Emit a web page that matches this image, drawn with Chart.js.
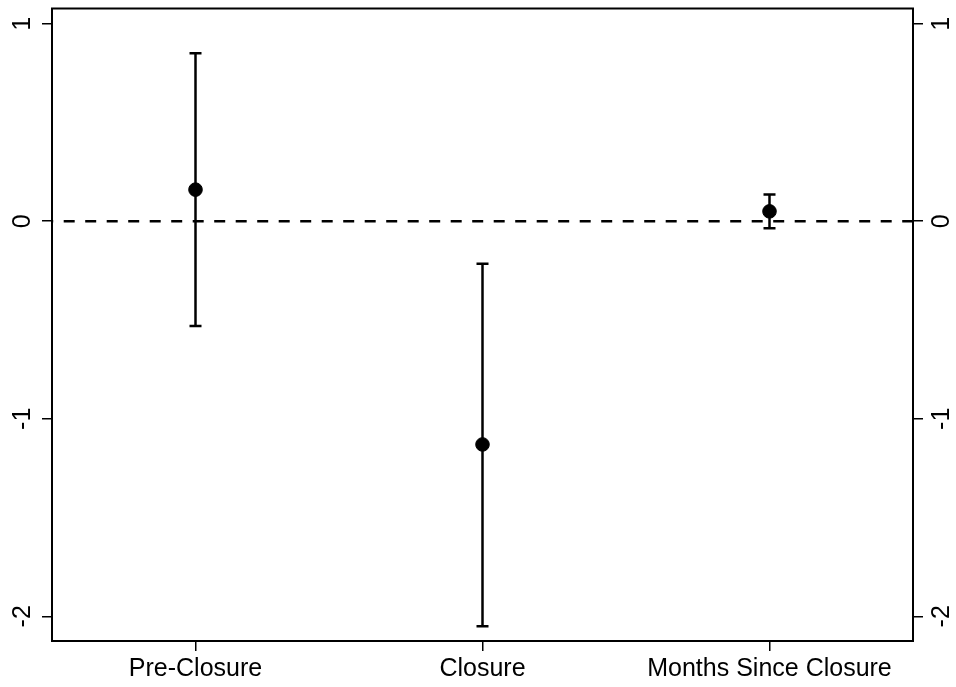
<!DOCTYPE html>
<html>
<head>
<meta charset="utf-8">
<title>Coefficient plot</title>
<script src="https://cdn.jsdelivr.net/npm/chart.js@4/dist/chart.umd.min.js"></script>
<style>
  html, body { margin: 0; padding: 0; background: #ffffff; }
  canvas { display: block; }
</style>
</head>
<body>
<canvas id="c" width="956" height="687"></canvas>
<script>
// Point estimates with 95% confidence intervals
const categories = ['Pre-Closure', 'Closure', 'Months Since Closure'];
const estimates  = [0.16, -1.13, 0.05];
const ciLower    = [-0.53, -2.05, -0.035];
const ciUpper    = [0.85, -0.215, 0.135];
const yTicks     = [-2, -1, 0, 1];
const xTicks     = [1, 2, 3];

const FONT = { family: '"Liberation Sans", Arial, Helvetica, sans-serif', size: 25 };
const INK = '#000000';

const pointData = estimates.map((v, i) => ({ x: i + 1, y: v }));
const ciData = [];
categories.forEach((_, i) => {
  ciData.push({ x: i + 1, y: ciLower[i] });
  ciData.push({ x: i + 1, y: ciUpper[i] });
  ciData.push({ x: i + 1, y: null });
});

// frame around the plotting region
const framePlugin = {
  id: 'frame',
  afterDatasetsDraw(chart) {
    const a = chart.chartArea, ctx = chart.ctx;
    ctx.save();
    ctx.strokeStyle = INK;
    ctx.lineWidth = 2;
    ctx.strokeRect(a.left, a.top, a.right - a.left, a.bottom - a.top);
    ctx.restore();
  }
};

// fixed axis sizes, no extra room for overhanging labels
function fixedSize(prop, size) {
  return s => {
    s[prop] = size;
    s.paddingTop = 0; s.paddingBottom = 0;
    s.paddingLeft = 0; s.paddingRight = 0;
  };
}

const yTickOpts = {
  color: INK,
  font: FONT,
  minRotation: 90,
  maxRotation: 90,
  crossAlign: 'center',
  padding: 8
};

new Chart(document.getElementById('c'), {
  type: 'scatter',
  data: {
    datasets: [
      {
        label: 'Estimate',
        data: pointData,
        order: 0,
        pointRadius: 6.8,
        pointBackgroundColor: INK,
        pointBorderColor: INK,
        pointBorderWidth: 1,
        showLine: false
      },
      {
        label: '95% CI',
        data: ciData,
        order: 1,
        showLine: true,
        spanGaps: false,
        borderColor: INK,
        borderWidth: 2.5,
        pointStyle: 'line',
        pointRadius: 6,
        pointBorderWidth: 2.5,
        pointBorderColor: INK,
        pointBackgroundColor: INK
      },
      {
        label: 'Zero',
        data: [{ x: 0.5, y: 0 }, { x: 3.5, y: 0 }],
        order: 2,
        showLine: true,
        borderColor: INK,
        borderWidth: 2.5,
        borderDash: [11, 10.5],
        borderDashOffset: 9.8,
        pointRadius: 0
      }
    ]
  },
  options: {
    responsive: false,
    devicePixelRatio: 1,
    animation: false,
    layout: { padding: { top: 7, left: 0, right: 0, bottom: 0 } },
    plugins: { legend: { display: false }, tooltip: { enabled: false } },
    scales: {
      x: {
        type: 'linear',
        min: 0.5,
        max: 3.5,
        afterBuildTicks: s => { s.ticks = xTicks.map(v => ({ value: v })); },
        afterFit: fixedSize('height', 46),
        border: { display: true, color: INK, width: 2 },
        grid: { drawOnChartArea: false, drawTicks: true, tickLength: 10, color: INK, lineWidth: 1.5 },
        ticks: {
          color: INK,
          font: FONT,
          maxRotation: 0,
          autoSkip: false,
          padding: 3,
          callback: v => categories[Math.round(v) - 1] || ''
        }
      },
      y: {
        type: 'linear',
        position: 'left',
        min: -2.125,
        max: 1.077,
        afterBuildTicks: s => { s.ticks = yTicks.map(v => ({ value: v })); },
        afterFit: fixedSize('width', 52),
        border: { display: true, color: INK, width: 2 },
        grid: { drawOnChartArea: false, drawTicks: true, tickLength: 10, color: INK, lineWidth: 1.5 },
        ticks: yTickOpts
      },
      y2: {
        type: 'linear',
        position: 'right',
        min: -2.125,
        max: 1.077,
        afterBuildTicks: s => { s.ticks = yTicks.map(v => ({ value: v })); },
        afterFit: fixedSize('width', 43),
        border: { display: true, color: INK, width: 2 },
        grid: { drawOnChartArea: false, drawTicks: true, tickLength: 10, color: INK, lineWidth: 1.5 },
        ticks: yTickOpts
      }
    }
  },
  plugins: [framePlugin]
});
</script>
</body>
</html>
